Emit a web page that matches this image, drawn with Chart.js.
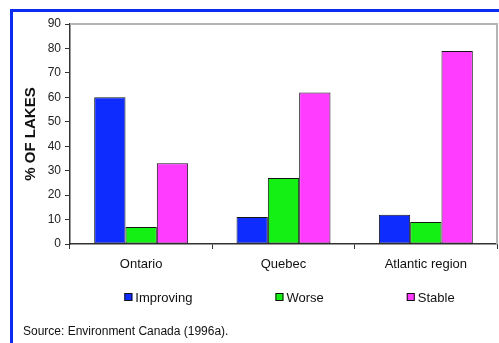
<!DOCTYPE html>
<html lang="en">
<head>
    <meta charset="UTF-8">
    <title>% of lakes</title>
    <script src="https://cdn.jsdelivr.net/npm/chart.js@4.4.0/dist/chart.umd.min.js"></script>
    <style>
        body { margin: 0; background: #fff; }
        .frame {
            position: absolute; left: 10px; top: 9px; width: 489px; height: 334px;
            border-top: 3px solid #0a2cf0; border-left: 3px solid #0a2cf0;
            box-sizing: border-box;
        }
        .wrap { position: absolute; left: 0; top: 0; width: 499px; height: 343px; }
    </style>
</head>
<body>
<div class="frame"></div>
<div class="wrap"><canvas id="myChart"></canvas></div>

<script>
    const regions = ['Ontario', 'Quebec', 'Atlantic region'];
    const improving = [60, 11, 12];
    const worse = [7, 27, 9];
    const stable = [33, 62, 79];
    const yMax = 90;
    const yStep = 10;

    const FONT = "'Liberation Sans', Arial, sans-serif";

    // gray frame on top and right of the plot area
    const plotFrame = {
        id: 'plotFrame',
        beforeDatasetsDraw(chart) {
            const ctx = chart.ctx, a = chart.chartArea;
            ctx.save();
            ctx.strokeStyle = '#b4b4b4';
            ctx.lineWidth = 2;
            ctx.beginPath();
            ctx.moveTo(a.left, a.top);
            ctx.lineTo(a.right, a.top);
            ctx.lineTo(a.right, a.bottom);
            ctx.stroke();
            ctx.restore();
        }
    };

    // legend in one row with wide gaps between the items
    const rowLegend = {
        id: 'rowLegend',
        afterDraw(chart, args, opts) {
            const ctx = chart.ctx, a = chart.chartArea;
            const box = 8, textGap = 3, gap = opts.gap;
            ctx.save();
            ctx.font = '13px ' + FONT;
            const items = chart.data.datasets.map(ds => ({
                text: ds.label, color: ds.backgroundColor,
                w: box + textGap + ctx.measureText(ds.label).width
            }));
            const total = items.reduce((s, it) => s + it.w, 0) + gap * (items.length - 1);
            let x = (a.left + a.right) / 2 + opts.shift - total / 2;
            const y = opts.y;
            items.forEach(it => {
                ctx.fillStyle = it.color;
                ctx.fillRect(x, y - box / 2, box, box);
                ctx.strokeStyle = '#111';
                ctx.lineWidth = 1;
                ctx.strokeRect(x + 0.5, y - box / 2 + 0.5, box - 1, box - 1);
                ctx.fillStyle = '#111';
                ctx.textBaseline = 'middle';
                ctx.fillText(it.text, x + box + textGap, y + 1);
                x += it.w + gap;
            });
            ctx.restore();
        }
    };

    const ctx = document.getElementById('myChart').getContext('2d');
    const myChart = new Chart(ctx, {
        type: 'bar',
        data: {
            labels: regions,
            datasets: [{
                label: 'Improving',
                data: improving,
                backgroundColor: '#0f2cff'
            }, {
                label: 'Worse',
                data: worse,
                backgroundColor: '#14f014'
            }, {
                label: 'Stable',
                data: stable,
                backgroundColor: '#ff3cff'
            }]
        },
        options: {
            responsive: true,
            maintainAspectRatio: false,
            animation: false,
            devicePixelRatio: 1,
            layout: { padding: { left: 23, right: 2, top: 24, bottom: 0 } },
            datasets: {
                bar: {
                    borderColor: '#151515',
                    borderWidth: 1,
                    borderSkipped: false,
                    categoryPercentage: 0.66,
                    barPercentage: 1
                }
            },
            scales: {
                x: {
                    afterFit(scale) { scale.height = 70.6; },
                    grid: {
                        display: true,
                        drawOnChartArea: false,
                        drawTicks: true,
                        tickLength: 5,
                        color: '#333',
                        offset: true
                    },
                    border: { color: '#333', width: 1.5 },
                    ticks: {
                        color: '#111',
                        padding: 8,
                        font: { family: FONT, size: 13 }
                    }
                },
                y: {
                    min: 0,
                    max: yMax,
                    afterFit(scale) { scale.width = 47; },
                    grid: {
                        drawOnChartArea: false,
                        drawTicks: true,
                        tickLength: 5,
                        color: '#333'
                    },
                    border: { color: '#333', width: 1.5 },
                    ticks: {
                        stepSize: yStep,
                        color: '#222',
                        padding: 4,
                        font: { family: FONT, size: 12 }
                    },
                    title: {
                        display: true,
                        text: '% OF LAKES',
                        color: '#111',
                        padding: 0,
                        font: { family: FONT, size: 15, weight: 'bold', lineHeight: 1 }
                    }
                }
            },
            plugins: {
                legend: { display: false },
                tooltip: { enabled: false },
                rowLegend: { gap: 83, shift: 6, y: 297 },
                title: {
                    display: true,
                    position: 'bottom',
                    align: 'start',
                    text: 'Source: Environment Canada (1996a).',
                    color: '#111',
                    padding: { top: 10, bottom: 4 },
                    font: { family: FONT, size: 12, weight: 'normal', lineHeight: 1.2 }
                }
            }
        },
        plugins: [plotFrame, rowLegend]
    });
</script>
</body>
</html>
